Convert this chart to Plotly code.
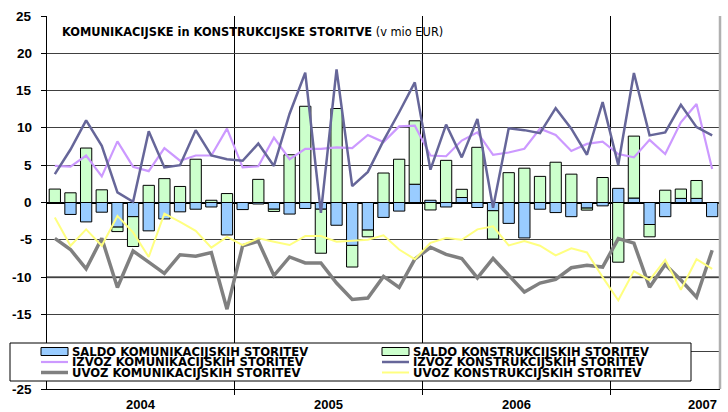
import plotly.graph_objects as go

# ---------------- data (monthly, Jan 2004 .. Jul 2007) ----------------
months = list(range(43))
year_labels = ["2004", "2005", "2006", "2007"]
year_label_pos = [5.5, 17.5, 29.5, 41.4]
year_bounds = [11.5, 23.5, 35.5]

saldo_kom = [0.0, -1.6, -2.6, -1.3, -3.3, -1.9, -3.8, -2.2, -1.25, -0.9, -0.6, -4.35,
             -0.95, -0.2, -0.9, -1.55, -0.8, -0.9, -3.05, -5.75, -3.7, -2.0, -1.15, 2.45,
             0.3, -0.6, 0.67, -0.67, -1.1, -2.8, -4.75, -0.9, -1.35, -1.9, -0.75, -0.45,
             1.9, 0.6, -2.95, -1.9, 0.55, 0.55, -1.9]
saldo_konstr = [1.8, 1.3, 7.3, 1.7, -0.6, -4.0, 2.3, 3.2, 2.15, 5.8, 0.3, 1.2,
                0.0, 3.1, -0.3, 6.4, 12.9, -5.9, 12.6, -2.9, -0.9, 3.95, 5.8, 8.5,
                -1.0, 5.65, 1.1, 7.4, -3.8, 4.0, 4.6, 3.5, 5.4, 3.8, -0.27, 3.35,
                -8.0, 8.3, -1.65, 1.65, 1.25, 2.4, 0.0]
izvoz_kom = [4.9, 4.8, 6.3, 3.5, 8.2, 4.8, 4.2, 7.3, 5.6, 6.3, 6.3, 9.9,
             4.7, 4.85, 8.7, 5.8, 7.2, 7.2, 7.4, 7.3, 9.05, 8.1, 10.2, 10.3,
             6.3, 6.2, 8.3, 9.4, 6.4, 6.7, 7.2, 9.9, 9.05, 6.9, 7.85, 8.15,
             6.5, 6.05, 8.4, 6.5, 10.75, 13.2, 4.5]
izvoz_konstr = [3.8, 7.1, 11.0, 7.6, 1.35, 0.1, 9.55, 4.7, 5.0, 9.7, 6.3, 5.8,
                5.6, 7.9, 4.9, 11.9, 17.4, -1.4, 17.85, 2.2, 4.1, 8.3, 12.1, 16.1,
                4.4, 10.45, 6.05, 11.2, -0.7, 9.95, 9.7, 9.3, 12.65, 9.9, 6.4, 13.45,
                5.05, 17.35, 9.0, 9.4, 13.1, 10.1, 9.0]
uvoz_kom = [-4.8, -6.3, -8.9, -4.8, -11.4, -6.5, -8.0, -9.5, -7.0, -7.2, -6.7, -14.3,
            -5.8, -5.2, -9.8, -7.3, -8.1, -8.1, -10.8, -13.0, -12.8, -9.9, -11.4, -7.6,
            -6.0, -6.95, -7.5, -10.1, -7.5, -9.7, -12.0, -10.8, -10.3, -8.75, -8.4, -8.65,
            -4.85, -5.45, -11.35, -8.3, -10.4, -12.7, -6.4]
uvoz_konstr = [-2.0, -5.8, -3.6, -5.8, -1.8, -4.0, -7.3, -1.5, -2.6, -3.8, -6.05, -4.6,
               -5.7, -4.8, -5.25, -5.7, -4.5, -4.5, -5.25, -5.15, -5.0, -4.4, -6.3, -7.6,
               -5.4, -4.75, -5.0, -3.6, -3.2, -5.75, -5.15, -5.8, -7.1, -6.15, -6.7, -10.0,
               -13.1, -9.2, -10.4, -7.7, -11.7, -7.6, -8.9]

y_ticks = [-25, -20, -15, -10, -5, 0, 5, 10, 15, 20, 25]
y_ticktext = [str(v) for v in y_ticks]

names = ["SALDO KOMUNIKACIJSKIH STORITEV", "SALDO KONSTRUKCIJSKIH STORITEV",
         "IZVOZ KOMUNIKACIJSKIH STORITEV", "IZVOZ KONSTRUKCIJSKIH STORITEV",
         "UVOZ KOMUNIKACIJSKIH STORITEV", "UVOZ KONSTRUKCIJSKIH STORITEV"]

C_BLUE = "#99ccff"
C_GREEN = "#ccffcc"
C_IZK = "#cc99ff"
C_IZKS = "#666699"
C_UVK = "#808080"
C_UVKS = "#ffff80"

W, H = 728, 412
X0, X1, Y0, Y1 = 47, 720, 16, 389


def px(x):
    return (x - X0) / (X1 - X0)


def py(y):
    return (Y1 - y) / (Y1 - Y0)


fig = go.Figure()
fig.add_trace(go.Bar(x=months, y=saldo_kom, name=names[0], marker=dict(color=C_BLUE, line=dict(color="black", width=1)), width=0.72))
fig.add_trace(go.Bar(x=months, y=saldo_konstr, name=names[1], marker=dict(color=C_GREEN, line=dict(color="black", width=1)), width=0.72))
fig.add_trace(go.Scatter(x=months, y=uvoz_kom, name=names[4], mode="lines", line=dict(color=C_UVK, width=3.5)))
fig.add_trace(go.Scatter(x=months, y=uvoz_konstr, name=names[5], mode="lines", line=dict(color=C_UVKS, width=2)))
fig.add_trace(go.Scatter(x=months, y=izvoz_kom, name=names[2], mode="lines", line=dict(color=C_IZK, width=2.2)))
fig.add_trace(go.Scatter(x=months, y=izvoz_konstr, name=names[3], mode="lines", line=dict(color=C_IZKS, width=2.5)))

fig.update_layout(
    width=W, height=H,
    margin=dict(l=X0, r=W - X1, t=Y0, b=H - Y1, pad=0),
    paper_bgcolor="white", plot_bgcolor="white",
    barmode="relative", showlegend=False,
    xaxis=dict(range=[-0.5, 42.5], tickvals=year_bounds, showticklabels=False,
               showgrid=True, gridcolor="black", gridwidth=1,
               ticks="outside", ticklen=5, tickcolor="black",
               showline=True, linecolor="black", linewidth=1, zeroline=False, automargin=False),
    yaxis=dict(range=[-25, 25], tickvals=y_ticks, showticklabels=False,
               showgrid=True, gridcolor="#404040", gridwidth=1,
               ticks="outside", ticklen=5, tickcolor="black",
               showline=True, linecolor="black", linewidth=1,
               zeroline=True, zerolinecolor="black", zerolinewidth=1.5, automargin=False),
)

shapes = []
# thicker grey gridline at -10
shapes.append(dict(type="line", xref="paper", yref="y", x0=0, x1=1, y0=-10, y1=-10,
                   line=dict(color="#808080", width=2.2), layer="below"))
# right border
shapes.append(dict(type="line", xref="paper", yref="paper", x0=1, x1=1, y0=0, y1=1,
                   line=dict(color="#b0b0b0", width=2.5), layer="above"))

# custom legend box (pixel bounds)
lx0, lx1, ly0, ly1 = 10, 691, 343, 381

annotations = []
# y tick labels (as text next to the axis); the one hidden behind the legend box is not drawn
for v, t in zip(y_ticks, y_ticktext):
    ypix = Y1 - (v + 25) / 50 * (Y1 - Y0)
    if ly0 - 3 <= ypix <= ly1 + 3:
        continue
    annotations.append(dict(xref="paper", yref="y", x=px(34), y=v, xanchor="right", yanchor="middle",
                            text="<b>" + t + "</b>", showarrow=False,
                            font=dict(family="Liberation Sans, Arial", size=13.5, color="black")))

shapes.append(dict(type="rect", xref="paper", yref="paper", x0=px(lx0), x1=px(lx1), y0=py(ly1), y1=py(ly0),
                   fillcolor="white", line=dict(color="black", width=1), layer="above"))
rows = [351.5, 362, 372.5]
cols = [(41, 68, 70), (382, 409, 411)]
leg_items = [
    (0, 0, "bar", C_BLUE, 0), (1, 0, "bar", C_GREEN, 0),
    (0, 1, "line", C_IZK, 2.2), (1, 1, "line", C_IZKS, 2.5),
    (0, 2, "line", C_UVK, 3.5), (1, 2, "line", C_UVKS, 2),
]
leg_names = [names[0], names[1], names[2], names[3], names[4], names[5]]
for (c, r, kind, col, lw), nm in zip(leg_items, leg_names):
    sx0, sx1, tx = cols[c]
    cy = rows[r]
    if kind == "bar":
        shapes.append(dict(type="rect", xref="paper", yref="paper", x0=px(sx0), x1=px(sx1),
                           y0=py(cy + 4), y1=py(cy - 4), fillcolor=col,
                           line=dict(color="black", width=1), layer="above"))
    else:
        shapes.append(dict(type="line", xref="paper", yref="paper", x0=px(sx0), x1=px(sx1),
                           y0=py(cy), y1=py(cy), line=dict(color=col, width=lw), layer="above"))
    annotations.append(dict(xref="paper", yref="paper", x=px(tx), y=py(cy), xanchor="left", yanchor="middle",
                            text="<b>" + nm + "</b>", showarrow=False,
                            font=dict(family="DejaVu Sans", size=11.6, color="black")))

# title inside plot
annotations.append(dict(xref="paper", yref="paper", x=px(60), y=py(32), xanchor="left", yanchor="middle",
                        text="<b>KOMUNIKACIJSKE in KONSTRUKCIJSKE STORITVE</b> (v mio EUR)", showarrow=False,
                        font=dict(family="DejaVu Sans", size=11.4, color="black")))

# year labels
for lab, pos in zip(year_labels, year_label_pos):
    annotations.append(dict(xref="x", yref="paper", x=pos, y=py(404), xanchor="center", yanchor="middle",
                            text="<b>" + lab + "</b>", showarrow=False,
                            font=dict(family="Liberation Sans, Arial", size=13, color="black")))

fig.update_layout(shapes=shapes, annotations=annotations)
fig.write_html("out.html", config={"displayModeBar": False},
               post_script="document.body.style.margin='0';document.body.style.padding='0';")
